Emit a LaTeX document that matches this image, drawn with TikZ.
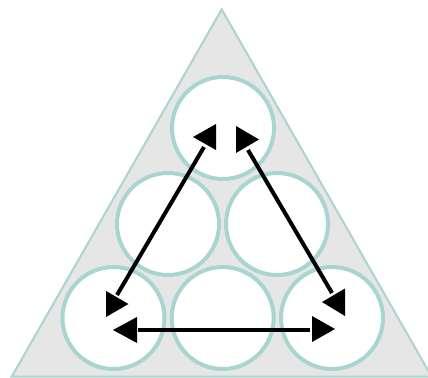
\documentclass[tikz,border=0pt]{standalone}
\begin{document}
\begin{tikzpicture}[x=0.75pt,y=-0.75pt,
  frame/.style={draw=tealline,fill=panelgray,line width=1.5pt,line join=miter},
  ball/.style={draw=tealline,fill=white,line width=3pt},
  link/.style={line width=3pt,draw=black},
  headL/.style={fill=black},
]
\definecolor{tealline}{RGB}{168,213,208}
\definecolor{panelgray}{RGB}{230,230,230}
\useasboundingbox (0,0) rectangle (428,378);

% outer triangle
\path[frame] (11.7,376.7) -- (221.7,9.3) -- (431.7,376.7) -- cycle;

% six circles
\foreach \n/\x/\y in {c1/223/128, c2/168/224, c3/277/224, c4/113.5/318, c5/222.7/318, c6/332/318}
  \path[ball] (\x,\y) circle (51);

% line end points
\coordinate (la) at (204,147);
\coordinate (lb) at (117,295);
\coordinate (ra) at (248,150);
\coordinate (rb) at (332,293);
\coordinate (ha) at (138,329.5);
\coordinate (hb) at (310,329.5);

\draw[link] (la) -- (lb);
\draw[link] (ra) -- (rb);
\draw[link] (ha) -- (hb);

% arrow heads (tip, then back edge)
\fill[headL] (193,137) -- (216,124) -- (216,150) -- cycle;
\fill[headL] (259,139.5) -- (236,126) -- (236,153) -- cycle;
\fill[headL] (128.5,304) -- (106,291) -- (106,317) -- cycle;
\fill[headL] (113,330) -- (137,317) -- (137,343) -- cycle;
\fill[headL] (335,329) -- (312,316) -- (312,342) -- cycle;
\fill[headL] (322,302) -- (345,288.5) -- (345,316) -- cycle;
\end{tikzpicture}
\end{document}
